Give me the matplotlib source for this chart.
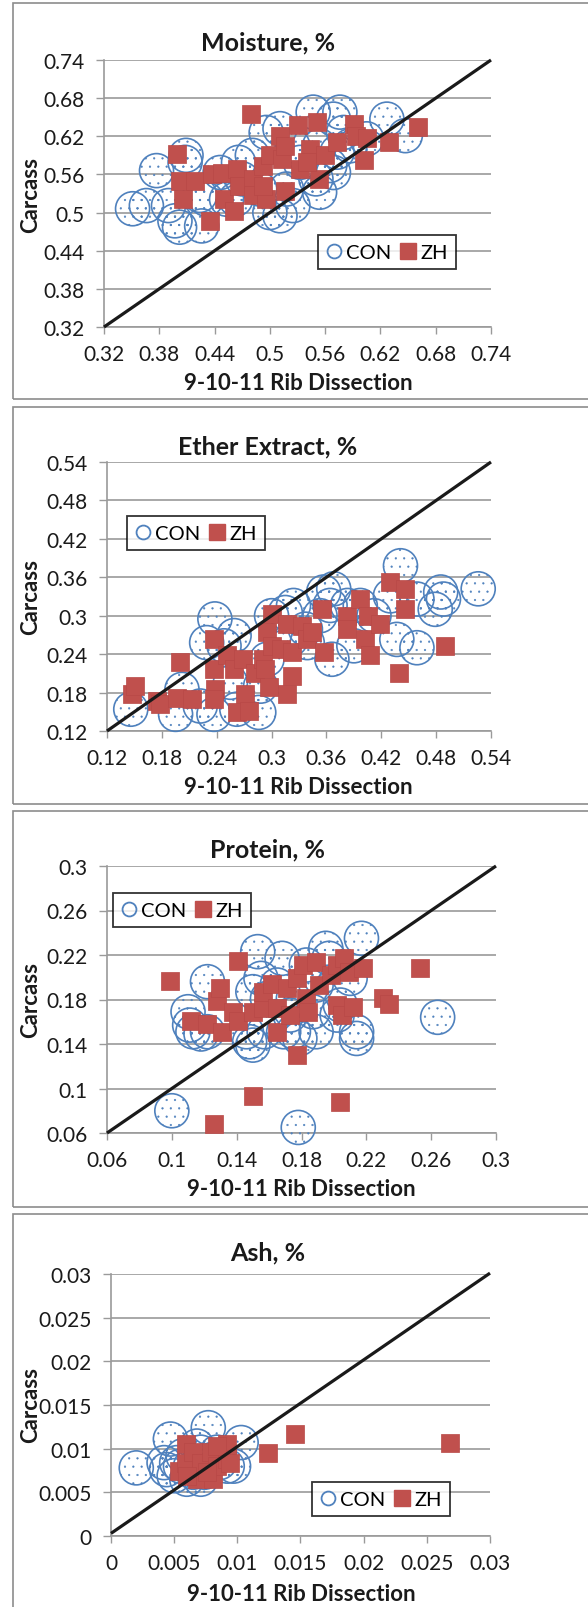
import matplotlib
matplotlib.use('Agg')
import matplotlib.pyplot as plt
from matplotlib.lines import Line2D
from matplotlib.patches import Rectangle

# ---------------- data ----------------
# Moisture
moist_con_x = [0.351, 0.366, 0.377, 0.390, 0.397, 0.402, 0.408, 0.409, 0.426, 0.424,
               0.431, 0.446, 0.453, 0.466, 0.470, 0.481, 0.489, 0.496, 0.500, 0.511,
               0.511, 0.518, 0.525, 0.533, 0.547, 0.550, 0.554, 0.565, 0.569, 0.576,
               0.580, 0.573, 0.587, 0.605, 0.627, 0.647, 0.525, 0.554, 0.463, 0.569]
moist_con_y = [0.506, 0.511, 0.566, 0.511, 0.487, 0.477, 0.579, 0.590, 0.479, 0.527,
               0.521, 0.563, 0.521, 0.579, 0.553, 0.590, 0.537, 0.626, 0.500, 0.495,
               0.632, 0.537, 0.605, 0.579, 0.658, 0.553, 0.532, 0.574, 0.647, 0.658,
               0.626, 0.595, 0.605, 0.616, 0.647, 0.621, 0.511, 0.605, 0.521, 0.563]
moist_zh_x = [0.399, 0.402, 0.406, 0.419, 0.435, 0.437, 0.448, 0.450, 0.461, 0.464,
              0.466, 0.479, 0.482, 0.482, 0.493, 0.496, 0.500, 0.511, 0.513, 0.516,
              0.516, 0.531, 0.533, 0.544, 0.551, 0.553, 0.560, 0.573, 0.591, 0.593,
              0.602, 0.605, 0.629, 0.661, 0.493, 0.540]
moist_zh_y = [0.592, 0.550, 0.521, 0.550, 0.487, 0.561, 0.563, 0.521, 0.503, 0.569,
              0.542, 0.655, 0.553, 0.527, 0.574, 0.521, 0.590, 0.621, 0.584, 0.605,
              0.534, 0.637, 0.569, 0.600, 0.642, 0.553, 0.590, 0.611, 0.640, 0.621,
              0.582, 0.618, 0.611, 0.634, 0.542, 0.579]

# Ether extract
ee_con_x = [0.146, 0.195, 0.202, 0.222, 0.237, 0.229, 0.238, 0.248, 0.259, 0.262,
            0.255, 0.286, 0.288, 0.295, 0.300, 0.315, 0.321, 0.339, 0.337, 0.357,
            0.366, 0.364, 0.383, 0.390, 0.397, 0.412, 0.430, 0.441, 0.437, 0.459,
            0.459, 0.479, 0.485, 0.488, 0.526, 0.353, 0.368, 0.324]
ee_con_y = [0.154, 0.146, 0.185, 0.159, 0.146, 0.258, 0.295, 0.253, 0.269, 0.154,
            0.196, 0.149, 0.190, 0.232, 0.300, 0.305, 0.263, 0.258, 0.279, 0.337,
            0.232, 0.316, 0.316, 0.253, 0.316, 0.300, 0.331, 0.378, 0.263, 0.250,
            0.326, 0.310, 0.337, 0.326, 0.342, 0.300, 0.342, 0.316]
ee_zh_x = [0.147, 0.151, 0.175, 0.178, 0.200, 0.197, 0.213, 0.237, 0.237, 0.238,
           0.237, 0.251, 0.259, 0.262, 0.269, 0.271, 0.275, 0.282, 0.291, 0.293,
           0.295, 0.297, 0.300, 0.300, 0.310, 0.317, 0.317, 0.322, 0.322, 0.333,
           0.339, 0.344, 0.355, 0.357, 0.382, 0.382, 0.397, 0.402, 0.406, 0.408,
           0.419, 0.430, 0.446, 0.446, 0.439, 0.490]
ee_zh_y = [0.177, 0.190, 0.167, 0.162, 0.227, 0.172, 0.170, 0.264, 0.217, 0.185,
           0.170, 0.238, 0.217, 0.149, 0.232, 0.177, 0.151, 0.211, 0.232, 0.217,
           0.274, 0.188, 0.303, 0.253, 0.248, 0.177, 0.287, 0.206, 0.243, 0.284,
           0.263, 0.274, 0.310, 0.243, 0.300, 0.279, 0.326, 0.264, 0.300, 0.238,
           0.287, 0.352, 0.342, 0.310, 0.211, 0.253]

# Protein
prot_con_x = [0.100, 0.178, 0.264, 0.217, 0.110, 0.111, 0.113, 0.118, 0.122, 0.122,
              0.146, 0.148, 0.150, 0.153, 0.155, 0.150, 0.157, 0.159, 0.168, 0.169,
              0.173, 0.175, 0.179, 0.183, 0.187, 0.189, 0.195, 0.197, 0.202, 0.204,
              0.210, 0.214, 0.214, 0.165, 0.189, 0.175]
prot_con_y = [0.080, 0.065, 0.164, 0.235, 0.169, 0.157, 0.151, 0.149, 0.196, 0.151,
              0.151, 0.142, 0.139, 0.223, 0.199, 0.187, 0.151, 0.181, 0.217, 0.151,
              0.166, 0.151, 0.145, 0.211, 0.169, 0.151, 0.226, 0.217, 0.166, 0.175,
              0.199, 0.151, 0.145, 0.193, 0.193, 0.181]
prot_zh_x = [0.099, 0.141, 0.112, 0.122, 0.128, 0.130, 0.131, 0.126, 0.150, 0.204,
             0.177, 0.138, 0.141, 0.150, 0.156, 0.156, 0.162, 0.165, 0.165, 0.171,
             0.173, 0.177, 0.181, 0.183, 0.184, 0.189, 0.191, 0.198, 0.202, 0.202,
             0.205, 0.206, 0.209, 0.212, 0.218, 0.230, 0.234, 0.253]
prot_zh_y = [0.197, 0.215, 0.161, 0.158, 0.179, 0.190, 0.151, 0.068, 0.093, 0.088,
             0.130, 0.169, 0.161, 0.169, 0.172, 0.187, 0.194, 0.151, 0.172, 0.190,
             0.166, 0.199, 0.211, 0.181, 0.169, 0.214, 0.193, 0.202, 0.211, 0.175,
             0.166, 0.217, 0.205, 0.173, 0.208, 0.181, 0.176, 0.208]

# Ash
ash_con_x = [0.0020, 0.0047, 0.0077, 0.0103, 0.0068, 0.0044, 0.0050, 0.0055, 0.0060, 0.0065,
             0.0071, 0.0076, 0.0081, 0.0086, 0.0092, 0.0057, 0.0071, 0.0084, 0.0052, 0.0063,
             0.0074, 0.0042, 0.0097]
ash_con_y = [0.0078, 0.0111, 0.0124, 0.0107, 0.0103, 0.0076, 0.0069, 0.0080, 0.0065, 0.0073,
             0.0065, 0.0080, 0.0088, 0.0084, 0.0080, 0.0092, 0.0096, 0.0096, 0.0084, 0.0080,
             0.0073, 0.0084, 0.0080]
ash_zh_x = [0.0146, 0.0124, 0.0268, 0.0059, 0.0054, 0.0059, 0.0065, 0.0068, 0.0071, 0.0079,
            0.0081, 0.0084, 0.0092, 0.0092, 0.0094, 0.0076, 0.0060, 0.0084]
ash_zh_y = [0.0117, 0.0095, 0.0107, 0.0105, 0.0075, 0.0084, 0.0096, 0.0065, 0.0084, 0.0096,
            0.0065, 0.0080, 0.0105, 0.0088, 0.0084, 0.0073, 0.0069, 0.0103]

# axis ticks and labels
moist_ticks = [0.32, 0.38, 0.44, 0.50, 0.56, 0.62, 0.68, 0.74]
moist_labels = ['0.32', '0.38', '0.44', '0.5', '0.56', '0.62', '0.68', '0.74']
ee_ticks = [0.12, 0.18, 0.24, 0.30, 0.36, 0.42, 0.48, 0.54]
ee_labels = ['0.12', '0.18', '0.24', '0.3', '0.36', '0.42', '0.48', '0.54']
prot_ticks = [0.06, 0.10, 0.14, 0.18, 0.22, 0.26, 0.30]
prot_labels = ['0.06', '0.1', '0.14', '0.18', '0.22', '0.26', '0.3']
ash_ticks = [0, 0.005, 0.010, 0.015, 0.020, 0.025, 0.030]
ash_labels = ['0', '0.005', '0.01', '0.015', '0.02', '0.025', '0.03']

# 1:1 reference lines
moist_line = [0.32, 0.74]
ee_line = [0.12, 0.54]
prot_line = [0.06, 0.30]
ash_line_x = [0.0, 0.030]
ash_line_y = [0.0003, 0.0301]

# ---------------- style ----------------
W, H = 588, 1608
BLUE = '#4F81BD'
RED = '#C0504D'
GRAY = '#9a9a9a'

plt.rcParams['font.family'] = ['Lato', 'DejaVu Sans']
plt.rcParams['hatch.color'] = BLUE
plt.rcParams['hatch.linewidth'] = 0.35

fig = plt.figure(figsize=(W / 100, H / 100), dpi=100)


def fx(px):
    return px / W


def fy(py):
    return 1 - py / H


def panel(frame, box, title, title_xy, xlab_xy, ylab_xy, ticks, labels,
          con_x, con_y, zh_x, zh_y, line_x, line_y, leg_xy):
    # cornice grigia del pannello
    l, t, r, b = frame
    fig.add_artist(Rectangle((fx(l), fy(b)), fx(r - l), (b - t) / H, transform=fig.transFigure,
                             fill=False, edgecolor='#8c8c8c', linewidth=1.2))

    l, t, r, b = box
    ax = fig.add_axes([fx(l), fy(b), fx(r - l), (b - t) / H])
    ax.set_xlim(ticks[0], ticks[-1])
    ax.set_ylim(ticks[0], ticks[-1])
    ax.set_xticks(ticks)
    ax.set_xticklabels(labels)
    ax.set_yticks(ticks)
    ax.set_yticklabels(labels)
    ax.tick_params(axis='both', labelsize=15, color=GRAY, direction='out', width=1.0,
                   labelcolor='#1a1a1a')
    ax.tick_params(axis='x', length=5, pad=7)
    ax.tick_params(axis='y', length=6, pad=8)
    for side in ['top', 'right']:
        ax.spines[side].set_visible(False)
    for side in ['left', 'bottom']:
        ax.spines[side].set_color(GRAY)
        ax.spines[side].set_linewidth(1.2)
    ax.yaxis.grid(True, color=GRAY, linewidth=1.2)
    ax.set_axisbelow(True)

    ax.scatter(con_x, con_y, s=600, marker='o', facecolors='none', edgecolors=BLUE,
               linewidths=1.2, hatch='..', clip_on=False, zorder=3)
    ax.scatter(zh_x, zh_y, s=175, marker='s', color=RED, edgecolors='#b84846',
               linewidths=0.5, clip_on=False, zorder=4)
    ax.plot(line_x, line_y, color='#1a1a1a', linewidth=2.3, solid_capstyle='butt',
            clip_on=False, zorder=5)

    fig.text(fx(title_xy[0]), fy(title_xy[1]), title, ha='center', va='center',
             fontsize=18, fontweight='bold', color='#1a1a1a')
    fig.text(fx(xlab_xy[0]), fy(xlab_xy[1]), '9-10-11 Rib Dissection', ha='center',
             va='center', fontsize=16, fontweight='bold', color='#1a1a1a')
    fig.text(fx(ylab_xy[0]), fy(ylab_xy[1]), 'Carcass', ha='center', va='center',
             rotation=90, fontsize=16, fontweight='bold', color='#1a1a1a')

    handles = [Line2D([], [], linestyle='none', marker='o', markersize=10, markerfacecolor='none',
                      markeredgecolor=BLUE, markeredgewidth=1.3),
               Line2D([], [], linestyle='none', marker='s', markersize=12, markerfacecolor=RED,
                      markeredgecolor=RED)]
    leg = ax.legend(handles, ['CON', 'ZH'], ncol=2, loc='center',
                    bbox_to_anchor=(fx(leg_xy[0]), fy(leg_xy[1])), bbox_transform=fig.transFigure,
                    fontsize=14.5, frameon=True, fancybox=False, handlelength=0.75,
                    handletextpad=0.2, columnspacing=0.5, borderpad=0.4, borderaxespad=0)
    leg.get_frame().set_edgecolor('black')
    leg.get_frame().set_linewidth(1.3)
    leg.set_zorder(10)
    return ax


panel((13, 4, 600, 400), (104, 61, 491, 328), 'Moisture, %', (268, 43), (298, 383), (31, 195),
      moist_ticks, moist_labels, moist_con_x, moist_con_y, moist_zh_x, moist_zh_y,
      moist_line, moist_line, (387, 253))

panel((13, 408, 600, 805), (107, 463, 491, 732), 'Ether Extract, %', (268, 447), (298, 787),
      (31, 597), ee_ticks, ee_labels, ee_con_x, ee_con_y, ee_zh_x, ee_zh_y,
      ee_line, ee_line, (196, 534))

panel((13, 812, 600, 1208), (107, 867, 496, 1134), 'Protein, %', (268, 850), (301, 1190),
      (31, 1000), prot_ticks, prot_labels, prot_con_x, prot_con_y, prot_zh_x, prot_zh_y,
      prot_line, prot_line, (182, 911))

panel((13, 1215, 600, 1625), (111, 1275, 490, 1537), 'Ash, %', (268, 1253), (301, 1595),
      (31, 1405), ash_ticks, ash_labels, ash_con_x, ash_con_y, ash_zh_x, ash_zh_y,
      ash_line_x, ash_line_y, (381, 1500))

fig.savefig('out.png', dpi=100)
